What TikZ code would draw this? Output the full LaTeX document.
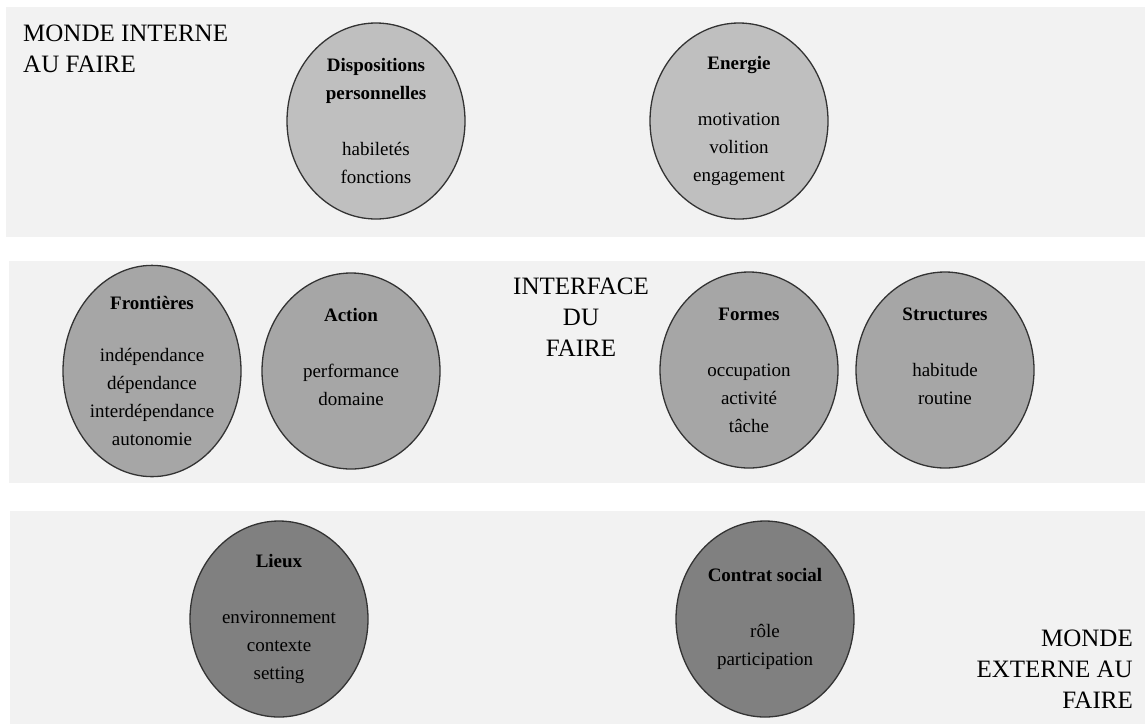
\documentclass[tikz,border=0pt]{standalone}
\usepackage{fontspec}
\setmainfont{Liberation Serif}
\usetikzlibrary{shapes.geometric,positioning}
\definecolor{bandgray}{HTML}{F2F2F2}
\definecolor{lightdisc}{HTML}{BFBFBF}
\definecolor{middisc}{HTML}{A6A6A6}
\definecolor{darkdisc}{HTML}{808080}

\begin{document}
\begin{tikzpicture}[x=1pt, y=-1pt, node distance=199pt, on grid,
  disc/.style={ellipse, draw=black!80, line width=1.3pt, minimum width=178pt,
    minimum height=196pt, inner sep=0pt, align=center,
    font=\fontsize{19}{28}\selectfont},
  world/.style={inner sep=0pt, font=\fontsize{25}{31}\selectfont}]
\useasboundingbox (0,0) rectangle (1145,724);
% the three bands
\fill[bandgray] (6,7) rectangle (1145,237);
\fill[bandgray] (9,261) rectangle (1145,483);
\fill[bandgray] (10,511) rectangle (1145,724);

\node[world, anchor=north west, align=left] (interne) at (23,25) {MONDE INTERNE\\AU FAIRE};
\node[world, anchor=north, align=center] (interface) at (581,278) {INTERFACE\\DU\\FAIRE};
\node[world, anchor=north east, align=right] (externe) at (1133,630) {MONDE\\EXTERNE AU\\FAIRE};

% monde interne
\node[disc, fill=lightdisc] (disp) at (376,121)
  {\textbf{Dispositions}\\\textbf{personnelles}\\[28pt]habiletés\\fonctions};
\node[disc, fill=lightdisc] (ener) [right=363pt of disp]
  {\textbf{Energie}\\[28pt]motivation\\volition\\engagement};

% interface
\node[disc, fill=middisc] (front) at (152,371)
  {\textbf{Frontières}\\[24pt]indépendance\\dépendance\\interdépendance\\autonomie};
\node[disc, fill=middisc] (action) [right=of front]
  {\textbf{Action}\\[28pt]performance\\domaine\\~};
\node[disc, fill=middisc] (formes) at (749,370)
  {\textbf{Formes}\\[28pt]occupation\\activité\\tâche};
\node[disc, fill=middisc] (struct) [right=196pt of formes]
  {\textbf{Structures}\\[28pt]habitude\\routine\\~};

% monde externe
\node[disc, fill=darkdisc] (lieux) at (279,619)
  {\textbf{Lieux}\\[28pt]environnement\\contexte\\setting};
\node[disc, fill=darkdisc] (contrat) [right=486pt of lieux]
  {\textbf{Contrat social}\\[28pt]rôle\\participation};
\end{tikzpicture}
\end{document}
